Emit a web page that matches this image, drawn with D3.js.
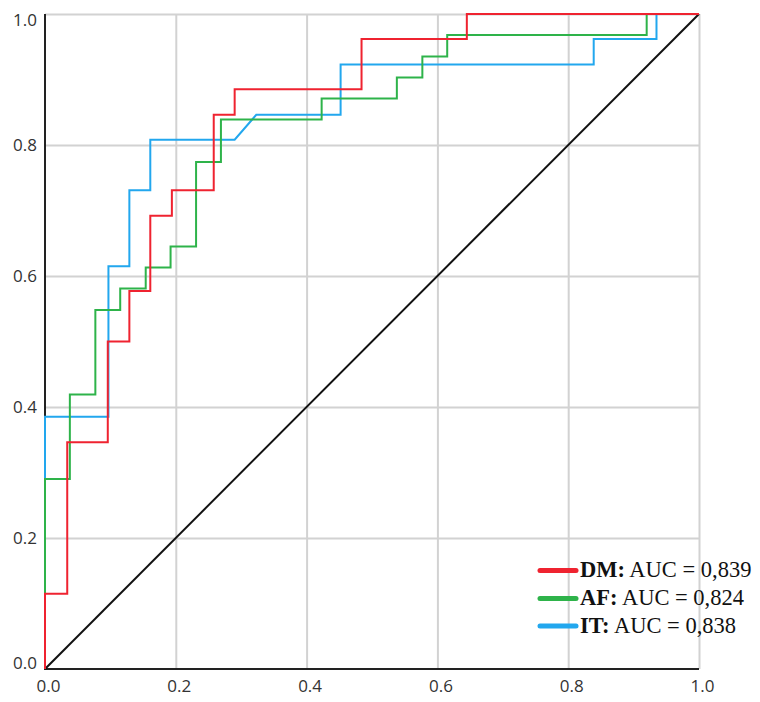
<!DOCTYPE html>
<html>
<head>
<meta charset="utf-8">
<script src="https://cdn.jsdelivr.net/npm/d3@7"></script>
<style>
  html, body { margin: 0; padding: 0; background: #fff; }
  svg { display: block; }
</style>
</head>
<body>
<svg id="chart" width="760" height="702"></svg>
<script>
// ---- data ----
const tickValues = [0, 0.2, 0.4, 0.6, 0.8, 1.0];
const tickLabels = ["0.0", "0.2", "0.4", "0.6", "0.8", "1.0"];

const seriesNames = ["DM", "AF", "IT"];
const seriesAUC = ["0,839", "0,824", "0,838"];
const seriesColors = ["#ef2330", "#2eb34a", "#22a7ee"];

// ROC curve vertices (false positive rate, true positive rate)
const dmFPR = [0, 0, 0.034, 0.034, 0.096, 0.096, 0.129, 0.129, 0.161, 0.161, 0.194, 0.194, 0.258, 0.258, 0.290, 0.290, 0.484, 0.484, 0.645, 0.645, 1];
const dmTPR = [0, 0.115, 0.115, 0.346, 0.346, 0.500, 0.500, 0.577, 0.577, 0.692, 0.692, 0.731, 0.731, 0.846, 0.846, 0.885, 0.885, 0.962, 0.962, 1, 1];

const afFPR = [0, 0, 0.038, 0.038, 0.077, 0.077, 0.115, 0.115, 0.154, 0.154, 0.192, 0.192, 0.231, 0.231, 0.269, 0.269, 0.423, 0.423, 0.538, 0.538, 0.577, 0.577, 0.615, 0.615, 0.920, 0.920, 1];
const afTPR = [0, 0.290, 0.290, 0.419, 0.419, 0.548, 0.548, 0.581, 0.581, 0.613, 0.613, 0.645, 0.645, 0.774, 0.774, 0.839, 0.839, 0.871, 0.871, 0.903, 0.903, 0.935, 0.935, 0.968, 0.968, 1, 1];

const itFPR = [0, 0, 0.097, 0.097, 0.129, 0.129, 0.161, 0.161, 0.290, 0.323, 0.452, 0.452, 0.839, 0.839, 0.935, 0.935, 1];
const itTPR = [0, 0.385, 0.385, 0.615, 0.615, 0.731, 0.731, 0.808, 0.808, 0.846, 0.846, 0.923, 0.923, 0.962, 0.962, 1, 1];

const refFPR = [0, 1];
const refTPR = [0, 1];

// ---- layout ----
const svg = d3.select("#chart");
const x = d3.scaleLinear().domain([0, 1]).range([45, 699]);
const y = d3.scaleLinear().domain([0, 1]).range([669, 14]);
const labelFont = "'Open Sans', 'Noto Sans', 'DejaVu Sans', sans-serif";

// grid
const grid = svg.append("g");
grid.append("g")
  .attr("transform", `translate(0,${y(0)})`)
  .call(d3.axisBottom(x).tickValues(tickValues.slice(1)).tickSize(-(y(0) - y(1))).tickFormat(""))
  .call(g => g.select(".domain").remove())
  .call(g => g.selectAll("line").attr("stroke", "#d2d2d2").attr("stroke-width", 2));
grid.append("g")
  .attr("transform", `translate(${x(0)},0)`)
  .call(d3.axisLeft(y).tickValues(tickValues.slice(1)).tickSize(-(x(1) - x(0))).tickFormat(""))
  .call(g => g.select(".domain").remove())
  .call(g => g.selectAll("line").attr("stroke", "#d2d2d2").attr("stroke-width", 2));

// axes (black lines)
svg.append("line").attr("x1", x(0)).attr("x2", x(0)).attr("y1", y(1)).attr("y2", y(0))
  .attr("stroke", "#222").attr("stroke-width", 2);
svg.append("line").attr("x1", x(0) - 1).attr("x2", x(1)).attr("y1", y(0)).attr("y2", y(0))
  .attr("stroke", "#222").attr("stroke-width", 2);

// tick labels
const yAxis = svg.append("g")
  .attr("transform", `translate(${x(0) - 5},0)`)
  .call(d3.axisLeft(y).tickValues(tickValues).tickSize(0).tickFormat((d, i) => tickLabels[i]));
yAxis.select(".domain").remove();
yAxis.selectAll("text")
  .attr("font-family", labelFont).attr("font-size", 17).attr("fill", "#333")
  .attr("dy", (d) => d === 1 ? "0.65em" : (d === 0 ? "-0.05em" : "0.32em"));

const xAxis = svg.append("g")
  .attr("transform", `translate(3,${y(0) + 8})`)
  .call(d3.axisBottom(x).tickValues(tickValues).tickSize(0).tickFormat((d, i) => tickLabels[i]));
xAxis.select(".domain").remove();
xAxis.selectAll("text")
  .attr("font-family", labelFont).attr("font-size", 17).attr("fill", "#333");

// reference diagonal
const line = d3.line().x(d => x(d[0])).y(d => y(d[1]));
svg.append("path")
  .attr("d", line(d3.zip(refFPR, refTPR)))
  .attr("fill", "none").attr("stroke", "#111").attr("stroke-width", 2);

// ROC curves (IT first, DM on top)
const curves = [
  { fpr: itFPR, tpr: itTPR, color: seriesColors[2] },
  { fpr: afFPR, tpr: afTPR, color: seriesColors[1] },
  { fpr: dmFPR, tpr: dmTPR, color: seriesColors[0] },
];
curves.forEach(c => {
  svg.append("path")
    .attr("d", line(d3.zip(c.fpr, c.tpr)))
    .attr("fill", "none")
    .attr("stroke", c.color)
    .attr("stroke-width", 2)
    .attr("stroke-linejoin", "miter");
});

// legend
const legend = svg.append("g");
const legendBaselines = [577, 605, 632.5];
seriesNames.forEach((name, i) => {
  const by = legendBaselines[i];
  legend.append("line")
    .attr("x1", 540).attr("x2", 576)
    .attr("y1", by - 6.5).attr("y2", by - 6.5)
    .attr("stroke", seriesColors[i]).attr("stroke-width", 5).attr("stroke-linecap", "round");
  const t = legend.append("text")
    .attr("x", 580).attr("y", by)
    .attr("font-family", "'Liberation Serif', 'Times New Roman', serif")
    .attr("font-size", 22.5).attr("fill", "#111");
  t.append("tspan").attr("font-weight", "bold").text(name + ":");
  t.append("tspan").text(" AUC = " + seriesAUC[i]);
});
</script>
</body>
</html>
